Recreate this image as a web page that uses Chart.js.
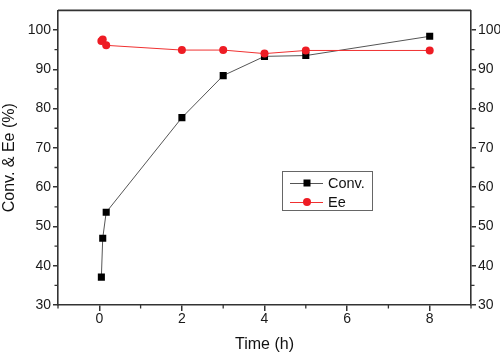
<!DOCTYPE html>
<html>
<head>
<meta charset="utf-8">
<script src="https://cdn.jsdelivr.net/npm/chart.js@4/dist/chart.umd.min.js"></script>
<style>
html,body{margin:0;padding:0;background:#fff;}
#wrap{width:500px;height:355px;}
</style>
</head>
<body>
<div id="wrap"><canvas id="c" width="500" height="355"></canvas></div>
<script>
// Data
const times = [0.05, 0.083, 0.167, 2, 3, 4, 5, 8];
const convValues = [37.1, 47.0, 53.6, 77.7, 88.4, 93.3, 93.5, 98.4];
const eeValues = [97.2, 97.6, 96.1, 94.9, 94.9, 94.0, 94.8, 94.8];
const xTicks = [0, 2, 4, 6, 8];
const yTicks = [30, 40, 50, 60, 70, 80, 90, 100];
const xMinor = [-1, 1, 3, 5, 7, 9];
const yMinor = [35, 45, 55, 65, 75, 85, 95];
const seriesLabels = ['Conv.', 'Ee'];

const AX = '#333';
const FONT = "'Liberation Sans', Arial, sans-serif";

const toPts = (xs, ys) => xs.map((x, i) => ({x: x, y: ys[i]}));

const frame = {
  id: 'frame',
  afterDraw(chart) {
    const {ctx, chartArea: a, scales} = chart;
    ctx.save();
    ctx.strokeStyle = AX;
    ctx.lineWidth = 1.6;
    ctx.beginPath();
    ctx.moveTo(a.left, a.top); ctx.lineTo(a.right, a.top);
    ctx.stroke();
    // minor ticks
    ctx.lineWidth = 1.3;
    ctx.beginPath();
    yMinor.forEach(v => {
      const y = scales.y.getPixelForValue(v);
      ctx.moveTo(a.left - 3.5, y); ctx.lineTo(a.left, y);
      ctx.moveTo(a.right, y); ctx.lineTo(a.right + 3.5, y);
    });
    xMinor.forEach(v => {
      const x = scales.x.getPixelForValue(v);
      ctx.moveTo(x, a.bottom); ctx.lineTo(x, a.bottom + 3.5);
    });
    ctx.stroke();
    ctx.restore();
  }
};

const legendBox = {
  id: 'legendBox',
  afterDraw(chart) {
    const {ctx} = chart;
    const ds = chart.data.datasets;
    ctx.save();
    ctx.strokeStyle = '#666';
    ctx.lineWidth = 1;
    ctx.strokeRect(282.5, 171.5, 90, 39);
    const rows = [183, 202];
    ds.slice().sort((a, b) => a.legendIndex - b.legendIndex).forEach((d, i) => {
      const y = rows[i];
      ctx.strokeStyle = d.borderColor;
      ctx.lineWidth = 1;
      ctx.beginPath(); ctx.moveTo(290, y + 0.5); ctx.lineTo(323, y + 0.5); ctx.stroke();
      ctx.fillStyle = d.pointBackgroundColor;
      if (d.pointStyle === 'rect') {
        ctx.fillRect(303.5, y - 3.5, 7, 7);
      } else {
        ctx.beginPath(); ctx.arc(307, y, 4, 0, Math.PI * 2); ctx.fill();
      }
      ctx.fillStyle = '#111';
      ctx.font = "14.5px " + FONT;
      ctx.textBaseline = 'middle';
      ctx.fillText(d.label, 328, y + 1);
    });
    ctx.restore();
  }
};

const yScaleBase = {
  type: 'linear', min: 30, max: 105,
  afterBuildTicks: s => { s.ticks = yTicks.map(v => ({value: v})); },
  grid: {drawOnChartArea: false, drawTicks: true, tickLength: 5, tickColor: AX, lineWidth: 1.5},
  border: {display: true, color: AX, width: 1.6},
  ticks: {color: '#1a1a1a', font: {family: FONT, size: 14}, padding: 2}
};

new Chart(document.getElementById('c'), {
  type: 'line',
  data: {
    datasets: [
      {
        label: seriesLabels[0], legendIndex: 0, order: 1,
        data: toPts(times, convValues),
        borderColor: '#555', borderWidth: 1,
        pointStyle: 'rect', pointRadius: 5, pointBackgroundColor: '#000', pointBorderColor: '#000', pointBorderWidth: 0,
        yAxisID: 'y'
      },
      {
        label: seriesLabels[1], legendIndex: 1, order: 0,
        data: toPts(times, eeValues),
        borderColor: '#f03030', borderWidth: 1,
        pointStyle: 'circle', pointRadius: 4, pointBackgroundColor: '#ee1c24', pointBorderColor: '#ee1c24', pointBorderWidth: 0,
        yAxisID: 'y'
      }
    ]
  },
  options: {
    responsive: false, animation: false,
    layout: {padding: {top: 3, left: 0, right: 0, bottom: 0}},
    plugins: {legend: {display: false}, tooltip: {enabled: false}},
    elements: {line: {tension: 0}},
    scales: {
      x: {
        type: 'linear', min: -1, max: 9, position: 'bottom',
        afterBuildTicks: s => { s.ticks = xTicks.map(v => ({value: v})); },
        afterFit: s => { s.height = 50; },
        grid: {drawOnChartArea: false, drawTicks: true, tickLength: 6, tickColor: AX, lineWidth: 1.5},
        border: {display: true, color: AX, width: 1.6},
        ticks: {color: '#1a1a1a', font: {family: FONT, size: 14}, padding: 0, maxRotation: 0},
        title: {display: true, text: 'Time (h)', color: '#111', font: {family: FONT, size: 16}, padding: {top: 0, bottom: 1}}
      },
      y: Object.assign({}, yScaleBase, {
        position: 'left',
        afterFit: s => { s.width = 58; },
        title: {display: true, text: 'Conv. & Ee (%)', color: '#111', font: {family: FONT, size: 16}, padding: {top: 0, bottom: 0}}
      }),
      y2: Object.assign({}, yScaleBase, {
        position: 'right',
        afterFit: s => { s.width = 29; }
      })
    }
  },
  plugins: [frame, legendBox]
});
</script>
</body>
</html>
